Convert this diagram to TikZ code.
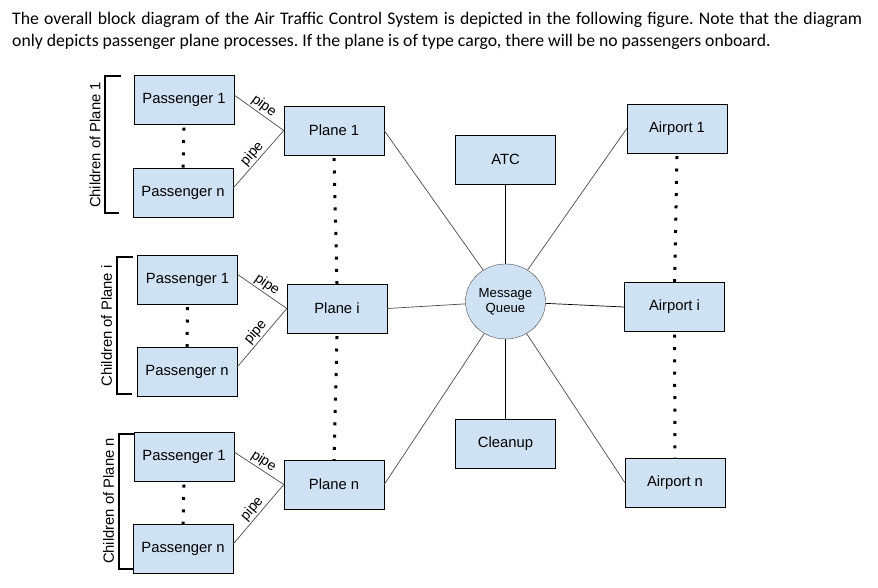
\documentclass[tikz,border=0pt]{standalone}
\usepackage{fontspec}
\setmainfont{Liberation Sans}
\newfontfamily\headfont{Carlito}
\usepackage{xcolor}
\usetikzlibrary{shapes.geometric}
\usetikzlibrary{positioning}

\definecolor{boxblue}{HTML}{CFE2F3}
\definecolor{edgegray}{HTML}{4A4A4A}

\tikzset{
	block/.style={draw=black, fill=boxblue, minimum width=100pt, minimum height=49pt, inner sep=0pt, font=\fontsize{14.8}{17}\selectfont},
	queue/.style={ellipse, draw=edgegray, fill=boxblue, minimum width=80pt, minimum height=75pt, inner sep=0pt, align=center, font=\fontsize{13.2}{15.5}\selectfont},
	link/.style={draw=edgegray, line width=0.7pt},
	dotline/.style={line width=3pt, dash pattern=on 3pt off 9.3pt},
	pipelabel/.style={sloped, above, inner sep=1.5pt, font=\fontsize{14}{16}\selectfont},
	childbrace/.style={line width=1.2pt},
	grouplabel/.style={rotate=90, font=\fontsize{14.8}{17}\selectfont}
}

\begin{document}
\begin{tikzpicture}[x=1pt,y=-1pt]

	\useasboundingbox (0,0) rectangle (878,587);

	\node [anchor=base west, text width=850pt, align=justify, inner sep=0pt, font=\headfont\fontsize{17.7}{22}\selectfont\frenchspacing] (intro) at (12,24) {The overall block diagram of the Air Traffic Control System is depicted in the following figure. Note that the diagram\linebreak only depicts passenger plane processes. If the plane is of type cargo, there will be no passengers onboard.};

	% planes and their passengers
	\node [block] (pa1) at (184,100) {Passenger 1};
	\node [block] (pan) at (183,193) {Passenger n};
	\node [block] (plane1) at (334,130.5) {Plane 1};

	\node [block] (pi1) at (187.5,279.5) {Passenger 1};
	\node [block] (pin) at (187,372) {Passenger n};
	\node [block] (planei) at (337,308.5) {Plane i};

	\node [block] (pn1) at (184,457) {Passenger 1};
	\node [block] (pnn) at (183,549) {Passenger n};
	\node [block] (planen) at (334,484.5) {Plane n};

	% centre
	\node [block] (atc) at (505.5,159.5) {ATC};
	\node [queue] (mq) at (505.5,301.5) {Message\\Queue};
	\node [block] (cleanup) at (505.5,443.5) {Cleanup};

	% airports
	\node [block] (airport1) at (677,128.5) {Airport 1};
	\node [block] (airporti) at (674.5,307) {Airport i};
	\node [block] (airportn) at (675,482.5) {Airport n};

	% pipes
	\draw [link] ([yshift=5pt]pa1.east) -- node [pipelabel] {pipe} (plane1.west);
	\draw [link] ([yshift=5pt]pan.east) -- node [pipelabel] {pipe} (plane1.west);
	\draw [link] ([yshift=5pt]pi1.east) -- node [pipelabel] {pipe} (planei.west);
	\draw [link] ([yshift=5pt]pin.east) -- node [pipelabel] {pipe} (planei.west);
	\draw [link] ([yshift=5pt]pn1.east) -- node [pipelabel] {pipe} (planen.west);
	\draw [link] ([yshift=5pt]pnn.east) -- node [pipelabel] {pipe} (planen.west);

	% message queue links
	\draw [link] (plane1.east) -- (mq);
	\draw [link] (planei.east) -- (mq);
	\draw [link] (planen.east) -- (mq);
	\draw [link, draw=black] (atc) -- (mq);
	\draw [link, draw=black] (cleanup) -- (mq);
	\draw [link] (airport1.west) -- (mq);
	\draw [link, draw=black] (airporti.west) -- (mq);
	\draw [link] (airportn.west) -- (mq);

	% dots
	\draw [dotline] ([yshift=-3pt]pa1.south) -- (pan.north);
	\draw [dotline] ([yshift=-3pt]pi1.south) -- (pin.north);
	\draw [dotline] ([yshift=-3pt]pn1.south) -- (pnn.north);
	\draw [dotline] ([yshift=-3pt]plane1.south) -- (planei.north);
	\draw [dotline] ([yshift=-3pt]planei.south) -- (planen.north);
	\draw [dotline] ([yshift=-3pt]airport1.south) -- (airporti.north);
	\draw [dotline] ([yshift=-3pt]airporti.south) -- (airportn.north);

	% children brackets
	\draw [childbrace] (121,76) -| (105,213) -- (119,213);
	\node [grouplabel] at (95,145) {Children of Plane 1};

	\draw [childbrace] (133,257) -| (117,394) -- (132,394);
	\node [grouplabel] at (106.5,326) {Children of Plane i};

	\draw [childbrace] (135,434) -| (119,569) -- (133,569);
	\node [grouplabel] at (108.5,501) {Children of Plane n};

\end{tikzpicture}
\end{document}
